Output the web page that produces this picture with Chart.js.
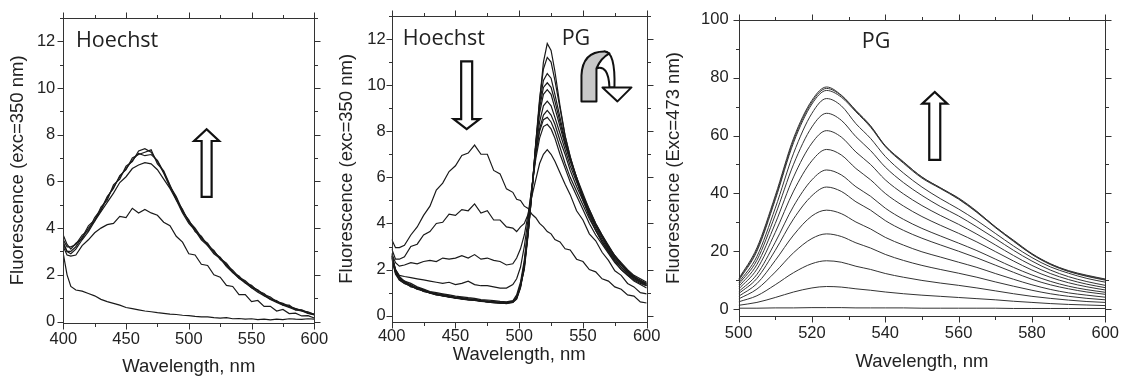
<!DOCTYPE html>
<html>
<head>
<meta charset="utf-8">
<script src="https://cdn.jsdelivr.net/npm/chart.js@4/dist/chart.umd.min.js"></script>
<style>
  body { margin: 0; background: #fff; overflow: hidden; }
  #wrap { position: relative; width: 1127px; height: 376px; }
  #wrap canvas { position: absolute; left: 0; top: 0; }
</style>
</head>
<body>
<div id="wrap">
  <canvas id="c1" width="1127" height="376"></canvas>
  <canvas id="c2" width="1127" height="376"></canvas>
  <canvas id="c3" width="1127" height="376"></canvas>
</div>
<script>
// ---- panel 1: Hoechst, exc 350 nm ----
const wl1 = [400,403,406,410,415,420,425,430,435,440,445,450,455,460,465,470,475,480,485,490,495,500,505,510,515,520,525,530,535,540,545,550,555,560,565,570,575,580,585,590,595,600];
const p1a = [3.7,3.3,3.1,3.35,3.55,4.0,4.3,4.9,5.2,5.85,6.1,6.65,6.85,7.3,7.4,7.25,6.85,6.35,5.75,5.3,4.7,4.35,3.85,3.65,3.25,3.05,2.65,2.45,2.1,1.95,1.65,1.55,1.3,1.2,0.95,0.9,0.7,0.7,0.5,0.5,0.38,0.32];
const p1b = [3.5,3.2,3.2,3.3,3.7,3.9,4.45,4.8,5.35,5.7,6.25,6.5,7.0,7.15,7.25,7.35,6.75,6.45,5.85,5.2,4.8,4.25,3.95,3.55,3.35,2.95,2.75,2.4,2.2,1.9,1.75,1.5,1.35,1.15,1.05,0.85,0.78,0.65,0.55,0.45,0.42,0.3];
const p1c = [3.4,3.0,3.0,3.2,3.6,4.1,4.35,4.75,5.3,5.75,6.2,6.55,6.9,7.2,7.1,7.15,6.9,6.4,5.8,5.35,4.75,4.3,4.0,3.6,3.3,3.0,2.7,2.5,2.15,1.85,1.7,1.45,1.35,1.1,1.0,0.85,0.75,0.62,0.55,0.48,0.36,0.3];
const p1d = [3.3,3.0,2.9,3.1,3.5,3.85,4.3,4.7,5.1,5.5,5.95,6.2,6.55,6.7,6.8,6.75,6.5,6.1,5.7,5.2,4.65,4.2,3.9,3.5,3.25,2.9,2.7,2.35,2.1,1.85,1.65,1.45,1.25,1.1,0.95,0.82,0.7,0.6,0.5,0.45,0.35,0.28];
const p1e = [3.2,2.85,2.8,2.85,3.25,3.5,3.8,4.0,4.15,4.2,4.5,4.45,4.85,4.65,4.8,4.65,4.55,4.25,4.1,3.65,3.4,2.9,2.85,2.45,2.4,2.0,1.9,1.55,1.5,1.15,1.15,0.85,0.9,0.65,0.65,0.45,0.52,0.34,0.36,0.24,0.25,0.15];
const p1f = [2.9,2.0,1.5,1.35,1.3,1.2,1.1,0.95,0.85,0.78,0.7,0.6,0.55,0.5,0.45,0.42,0.38,0.35,0.32,0.3,0.27,0.25,0.22,0.2,0.2,0.17,0.15,0.17,0.12,0.13,0.1,0.12,0.08,0.1,0.07,0.1,0.08,0.12,0.1,0.09,0.12,0.1];

// ---- panel 2: Hoechst + PG, exc 350 nm ----
const wl2 = [400,403,406,410,415,420,425,430,435,440,445,450,455,460,465,470,475,480,485,490,495,498,501,504,507,510,513,516,519,522,525,528,532,536,540,545,550,555,560,565,570,575,580,585,590,595,600];
const p2h1 = [3.3,2.95,2.95,3.05,3.5,3.85,4.35,4.75,5.45,5.75,6.25,6.5,6.95,7.05,7.4,7.0,7.0,6.3,6.15,5.5,5.35,5.05,5.0,4.75,4.65,4.4,4.25,4.0,3.85,3.65,3.55,3.3,3.2,2.9,2.85,2.45,2.35,2.0,1.9,1.6,1.5,1.25,1.15,0.9,0.85,0.6,0.55];
const p2h2 = [2.9,2.45,2.45,2.55,3.0,3.1,3.5,3.65,4.0,4.05,4.4,4.35,4.6,4.55,4.85,4.45,4.55,4.15,4.15,3.85,3.8,3.65,3.85,4.0,4.4,5.2,5.9,6.6,7.0,7.2,7.0,6.7,6.2,5.7,5.25,4.55,4.15,3.55,3.25,2.75,2.4,1.95,1.75,1.4,1.25,1.0,0.95];
const p2h3 = [2.7,2.3,2.15,2.2,2.3,2.25,2.35,2.4,2.35,2.5,2.45,2.5,2.6,2.5,2.65,2.45,2.5,2.4,2.35,2.2,2.25,2.5,2.9,3.5,4.4,5.6,6.8,7.7,8.2,8.3,8.1,7.7,7.0,6.4,5.8,5.2,4.6,4.0,3.5,3.1,2.7,2.3,2.0,1.75,1.5,1.35,1.2];
const p2h4 = [2.6,2.0,1.75,1.7,1.65,1.6,1.55,1.5,1.45,1.4,1.45,1.35,1.4,1.5,1.35,1.3,1.3,1.25,1.2,1.2,1.35,1.6,2.1,3.0,4.2,5.6,7.0,8.0,8.5,8.6,8.4,8.0,7.3,6.6,6.0,5.4,4.8,4.2,3.7,3.2,2.8,2.4,2.1,1.8,1.6,1.45,1.3];
const p2b1 = [2.7,2.0,1.7,1.5,1.4,1.25,1.15,1.05,1.0,0.95,0.9,0.85,0.82,0.78,0.75,0.7,0.68,0.65,0.62,0.6,0.65,0.9,1.45,2.4,3.9,5.5,7.0,8.1,8.7,8.9,8.7,8.3,7.6,7.0,6.3,5.6,5.0,4.4,3.9,3.4,2.9,2.5,2.2,1.9,1.7,1.5,1.4];
const p2b2 = [2.5,1.85,1.6,1.45,1.25,1.2,1.05,1.0,0.9,0.88,0.8,0.8,0.72,0.7,0.68,0.62,0.62,0.58,0.55,0.55,0.58,0.78,1.3,2.3,3.8,5.5,7.2,8.4,9.1,9.3,9.1,8.6,7.9,7.2,6.5,5.8,5.1,4.5,3.95,3.45,3.0,2.6,2.25,1.95,1.7,1.55,1.4];
const p2b3 = [2.6,1.95,1.55,1.4,1.3,1.15,1.1,0.98,0.95,0.85,0.85,0.75,0.75,0.7,0.66,0.65,0.6,0.6,0.56,0.54,0.6,0.75,1.25,2.2,3.7,5.5,7.4,8.8,9.6,9.8,9.6,9.0,8.2,7.4,6.7,5.9,5.2,4.6,4.0,3.5,3.05,2.6,2.3,2.0,1.75,1.6,1.45];
const p2b4 = [2.55,1.9,1.65,1.45,1.3,1.2,1.05,1.0,0.92,0.9,0.82,0.78,0.76,0.7,0.7,0.64,0.6,0.58,0.56,0.52,0.58,0.72,1.2,2.1,3.6,5.4,7.4,9.0,9.9,10.1,9.9,9.3,8.4,7.5,6.8,6.0,5.3,4.6,4.0,3.5,3.0,2.6,2.25,1.95,1.7,1.5,1.35];
const p2b5 = [2.65,1.9,1.6,1.5,1.3,1.22,1.12,1.02,0.96,0.92,0.86,0.8,0.78,0.74,0.72,0.66,0.64,0.6,0.6,0.58,0.62,0.8,1.3,2.0,3.5,5.4,7.5,9.2,10.2,10.5,10.3,9.6,8.6,7.6,6.8,6.0,5.2,4.5,3.9,3.4,2.95,2.55,2.2,1.9,1.65,1.5,1.35];
const p2b6 = [2.5,1.8,1.55,1.4,1.28,1.15,1.08,0.98,0.9,0.86,0.8,0.76,0.72,0.68,0.66,0.62,0.6,0.56,0.54,0.55,0.6,0.76,1.25,2.1,3.6,5.4,7.5,9.4,10.7,11.2,11.0,10.2,9.0,7.8,6.9,6.0,5.1,4.4,3.8,3.3,2.85,2.45,2.1,1.85,1.6,1.45,1.3];
const p2b7 = [2.6,1.95,1.65,1.45,1.35,1.18,1.1,1.02,0.94,0.88,0.84,0.8,0.74,0.72,0.68,0.64,0.6,0.6,0.55,0.56,0.62,0.82,1.35,2.2,3.6,5.3,7.2,9.3,11.0,11.8,11.5,10.6,9.1,7.8,6.9,5.9,5.0,4.3,3.7,3.2,2.75,2.35,2.0,1.75,1.55,1.4,1.3];

// ---- panel 3: PG, exc 473 nm ----
const wl3 = [500,505,510,515,520,524,528,532,536,540,545,550,555,560,565,570,575,580,585,590,595,600];
const p3c1 = [10.4,21.2,39.2,59.1,72.2,76.8,74.0,68.7,63.4,56.4,50.7,45.7,41.9,38.4,33.8,28.4,23.8,19.2,15.7,13.3,11.7,10.4];
const p3c2 = [10.1,20.6,38.5,58.4,71.6,76.3,73.8,68.5,63.2,56.5,50.9,45.6,42.0,38.2,33.6,28.5,23.6,19.0,15.6,13.1,11.5,10.2];
const p3c3 = [9.8,20.0,37.8,57.6,70.9,75.6,73.3,68.2,62.9,56.2,50.4,45.3,41.7,38.0,33.4,28.2,23.4,18.9,15.4,13.0,11.3,10.0];
const p3c4 = [9.1,18.2,34.9,53.9,67.7,72.8,70.3,64.1,59.0,52.8,47.0,42.2,38.2,34.6,30.6,26.2,21.8,17.8,14.6,12.4,10.6,9.3];
const p3c5 = [8.5,16.9,32.5,50.1,63.0,67.7,65.3,59.6,54.8,49.1,43.7,39.3,35.5,32.2,28.4,24.4,20.3,16.6,13.5,11.2,9.5,8.2];
const p3c6 = [7.7,15.4,29.6,45.7,57.4,61.7,59.5,54.3,50.0,44.7,39.8,35.8,32.4,29.3,25.9,22.2,18.5,15.1,12.3,10.2,8.6,7.4];
const p3c7 = [6.9,13.8,26.5,40.8,51.3,55.2,53.3,48.6,44.7,40.0,35.6,32.0,29.0,26.2,23.2,19.9,16.6,13.5,11.0,9.1,7.7,6.6];
const p3c8 = [6.0,12.0,23.1,35.6,44.7,48.1,46.4,42.3,39.0,34.9,31.0,27.9,25.3,22.8,20.2,17.3,14.4,11.8,9.6,7.9,6.7,5.8];
const p3c9 = [5.3,10.6,20.3,31.2,39.2,42.2,40.7,37.1,34.2,30.6,27.2,24.5,22.2,20.0,17.7,15.2,12.7,10.3,8.4,7.0,5.9,5.1];
const p3c10 = [4.4,8.8,16.8,25.6,32.2,34.2,33.0,30.1,27.7,24.8,22.1,19.8,18.0,16.2,14.4,12.3,10.3,8.4,6.8,5.6,4.8,4.1];
const p3c11 = [3.5,6.9,12.8,19.5,24.4,26.0,25.1,22.9,21.1,18.9,16.8,15.1,13.7,12.4,11.0,9.4,7.9,6.5,5.3,4.4,3.7,3.2];
const p3c12 = [2.5,4.6,8.4,12.6,15.7,16.7,16.2,14.8,13.7,12.3,11.0,9.9,9.0,8.2,7.3,6.3,5.3,4.4,3.7,3.1,2.6,2.3];
const p3c13 = [1.3,2.3,4.0,5.9,7.3,7.8,7.6,7.0,6.5,5.9,5.3,4.8,4.4,4.0,3.6,3.2,2.7,2.3,1.9,1.6,1.4,1.2];
const p3c14 = [0.3,0.3,0.4,0.4,0.5,0.5,0.5,0.4,0.4,0.4,0.4,0.3,0.3,0.3,0.3,0.3,0.2,0.2,0.2,0.2,0.2,0.2];

// tick labels
const xTicks12 = [400,450,500,550,600];
const xMinor12 = [425,475,525,575];
const yTicks12 = [0,2,4,6,8,10,12];
const yMinor12 = [1,3,5,7,9,11,13];
const xTicks3 = [500,520,540,560,580,600];
const xMinor3 = [510,530,550,570,590];
const yTicks3 = [0,20,40,60,80,100];
const yMinor3 = [10,30,50,70,90];

const SANS = "'Liberation Sans', Arial, sans-serif";
const INK = '#222';

function blockArrow(ctx, x, yTail, yTip, sw, hw, hl) {
    const dir = yTip > yTail ? 1 : -1;
    const yb = yTip - dir * hl;
    ctx.beginPath();
    ctx.moveTo(x - sw / 2, yTail);
    ctx.lineTo(x - sw / 2, yb);
    ctx.lineTo(x - hw / 2, yb);
    ctx.lineTo(x, yTip);
    ctx.lineTo(x + hw / 2, yb);
    ctx.lineTo(x + sw / 2, yb);
    ctx.lineTo(x + sw / 2, yTail);
    ctx.closePath();
    ctx.fillStyle = '#fff';
    ctx.fill();
    ctx.stroke();
}

function curlArrow(ctx, ax, ay) {
    // right (white) part of the ribbon
    ctx.beginPath();
    ctx.moveTo(ax + 2, ay - 21);
    ctx.quadraticCurveTo(ax + 13, ay - 21, ax + 12, ay + 15);
    ctx.lineTo(ax + 7, ay + 15);
    ctx.quadraticCurveTo(ax + 6, ay - 8, ax - 6, ay - 4);
    ctx.closePath();
    ctx.fillStyle = '#fff';
    ctx.fill();
    ctx.stroke();
    // left (grey) part
    ctx.beginPath();
    ctx.moveTo(ax - 21, ay + 29);
    ctx.lineTo(ax - 21, ay + 3);
    ctx.quadraticCurveTo(ax - 20, ay - 21, ax + 2, ay - 21);
    ctx.lineTo(ax + 7, ay - 19);
    ctx.quadraticCurveTo(ax - 2, ay - 14, ax - 6, ay - 4);
    ctx.lineTo(ax - 6, ay + 29);
    ctx.closePath();
    ctx.fillStyle = '#c8c8c8';
    ctx.fill();
    ctx.stroke();
    // head
    ctx.beginPath();
    ctx.moveTo(ax, ay + 15);
    ctx.lineTo(ax + 29, ay + 15);
    ctx.lineTo(ax + 15, ay + 29);
    ctx.closePath();
    ctx.fillStyle = '#fff';
    ctx.fill();
    ctx.stroke();
}

const deco = {
    id: 'deco',
    afterDatasetsDraw(chart, args, opts) {
        const ctx = chart.ctx, xs = chart.scales.x, ys = chart.scales.y;
        ctx.save();
        ctx.strokeStyle = '#111';
        ctx.lineWidth = 2.2;
        ctx.lineJoin = 'miter';
        (opts.texts || []).forEach(t => {
            ctx.font = "21.5px 'Open Sans', sans-serif";
            ctx.fillStyle = INK;
            ctx.textAlign = 'left';
            ctx.textBaseline = 'alphabetic';
            ctx.fillText(t.text, xs.getPixelForValue(t.x), ys.getPixelForValue(t.y));
        });
        (opts.arrows || []).forEach(a => {
            blockArrow(ctx, xs.getPixelForValue(a.x), ys.getPixelForValue(a.tail), ys.getPixelForValue(a.tip), a.sw, a.hw, a.hl);
        });
        if (opts.curl) {
            ctx.lineWidth = 2;
            ctx.lineJoin = 'round';
            curlArrow(ctx, xs.getPixelForValue(opts.curl.x), ys.getPixelForValue(opts.curl.y));
        }
        ctx.restore();
    },
    afterDraw(chart, args, opts) {
        const ctx = chart.ctx, a = chart.chartArea, xs = chart.scales.x, ys = chart.scales.y;
        const L = Math.round(a.left) + 0.5, R = Math.round(a.right) + 0.5;
        const T = Math.round(a.top) + 0.5, B = Math.round(a.bottom) + 0.5;
        ctx.save();
        ctx.strokeStyle = '#333';
        ctx.lineWidth = 1;
        ctx.strokeRect(L, T, R - L, B - T);
        ctx.beginPath();
        const xt = (vals, len) => vals.forEach(v => {
            const p = Math.round(xs.getPixelForValue(v)) + 0.5;
            ctx.moveTo(p, B); ctx.lineTo(p, B + len);
            ctx.moveTo(p, T); ctx.lineTo(p, T - len);
        });
        const yt = (vals, len) => vals.forEach(v => {
            const p = Math.round(ys.getPixelForValue(v)) + 0.5;
            ctx.moveTo(L, p); ctx.lineTo(L - len, p);
            ctx.moveTo(R, p); ctx.lineTo(R + len, p);
        });
        xt(opts.xMajor, 6); xt(opts.xMinor, 3.5);
        yt(opts.yMajor, 6); yt(opts.yMinor, 3.5);
        ctx.stroke();
        ctx.restore();
    }
};

function makeChart(id, c) {
    return new Chart(document.getElementById(id), {
        type: 'line',
        data: {
            datasets: c.series.map(ys => ({
                data: c.wl.map((x, i) => ({x: x, y: ys[i]})),
                borderColor: c.color,
                borderWidth: c.lw,
                pointRadius: 0,
                tension: c.smooth ? 0.4 : 0,
                cubicInterpolationMode: c.smooth ? 'monotone' : 'default',
                fill: false
            }))
        },
        options: {
            responsive: false,
            animation: false,
            devicePixelRatio: 1,
            events: [],
            layout: {padding: c.pad},
            plugins: {
                legend: {display: false},
                tooltip: {enabled: false},
                deco: {
                    texts: c.texts, arrows: c.arrows, curl: c.curl,
                    xMajor: c.xTicks, xMinor: c.xMinor, yMajor: c.yTicks, yMinor: c.yMinor
                }
            },
            scales: {
                x: {
                    type: 'linear', min: c.xMin, max: c.xMax,
                    afterBuildTicks: s => { s.ticks = c.xTicks.map(v => ({value: v})); },
                    afterFit: s => { s.height = c.xH; },
                    grid: {display: false, drawTicks: false},
                    border: {display: false},
                    ticks: {autoSkip: false, maxRotation: 0, padding: c.xPad, color: INK,
                            font: {family: SANS, size: 16.5}, callback: v => String(v)},
                    title: {display: true, text: 'Wavelength, nm', color: INK, padding: 0,
                            font: {family: SANS, size: 18.5, lineHeight: 1}}
                },
                y: {
                    type: 'linear', min: c.yMin, max: c.yMax,
                    afterBuildTicks: s => { s.ticks = c.yTicks.map(v => ({value: v})); },
                    afterFit: s => { s.width = c.yW; },
                    grid: {display: false, drawTicks: false},
                    border: {display: false},
                    ticks: {autoSkip: false, padding: c.yPad, color: INK,
                            font: {family: SANS, size: 16.5}, callback: v => String(v)},
                    title: {display: true, text: c.yTitle, color: INK, padding: 0,
                            font: {family: SANS, size: 18.5, lineHeight: 1}}
                }
            }
        },
        plugins: [deco]
    });
}

makeChart('c1', {
    wl: wl1, series: [p1a, p1b, p1c, p1d, p1e, p1f], color: '#1a1a1a', lw: 1.2,
    xMin: 400, xMax: 600, yMin: -0.05, yMax: 13,
    xTicks: xTicks12, xMinor: xMinor12, yTicks: yTicks12, yMinor: yMinor12,
    pad: {left: 9, right: 812.7, top: 15, bottom: 0}, yW: 54.3, xH: 53.3, xPad: 6.5, yPad: 8,
    yTitle: 'Fluorescence (exc=350 nm)',
    texts: [{text: 'Hoechst', x: 410.1, y: 11.77}],
    arrows: [{x: 514.2, tail: 5.34, tip: 8.23, sw: 10, hw: 25, hl: 11.7}]
});

makeChart('c2', {
    wl: wl2, series: [p2h1, p2h2, p2h3, p2h4, p2b1, p2b2, p2b3, p2b4, p2b5, p2b6, p2b7], color: '#1a1a1a', lw: 1.2,
    xMin: 400, xMax: 600, yMin: -0.26, yMax: 13,
    xTicks: xTicks12, xMinor: xMinor12, yTicks: yTicks12, yMinor: yMinor12,
    pad: {left: 337.4, right: 480.3, top: 15, bottom: 11.75}, yW: 54.3, xH: 42.55, xPad: 5, yPad: 6,
    yTitle: 'Fluorescence (exc=350 nm)',
    texts: [{text: 'Hoechst', x: 408.6, y: 11.75}, {text: 'PG', x: 533.3, y: 11.75}],
    arrows: [{x: 458.8, tail: 11.03, tip: 8.09, sw: 11, hw: 26, hl: 10}],
    curl: {x: 565.3, y: 10.55}
});

makeChart('c3', {
    wl: wl3, series: [p3c1, p3c2, p3c3, p3c4, p3c5, p3c6, p3c7, p3c8, p3c9, p3c10, p3c11, p3c12, p3c13, p3c14],
    color: '#333', lw: 1, smooth: true,
    xMin: 500, xMax: 600, yMin: -2.4, yMax: 100,
    xTicks: xTicks3, xMinor: xMinor3, yTicks: yTicks3, yMinor: yMinor3,
    pad: {left: 664.75, right: 15, top: 15, bottom: 5.05}, yW: 73.85, xH: 54.95, xPad: 8, yPad: 10,
    yTitle: 'Fluorescence (Exc=473 nm)',
    texts: [{text: 'PG', x: 533.6, y: 90.4}],
    arrows: [{x: 553.5, tail: 51.6, tip: 75.1, sw: 11, hw: 25, hl: 11.7}]
});
</script>
</body>
</html>
